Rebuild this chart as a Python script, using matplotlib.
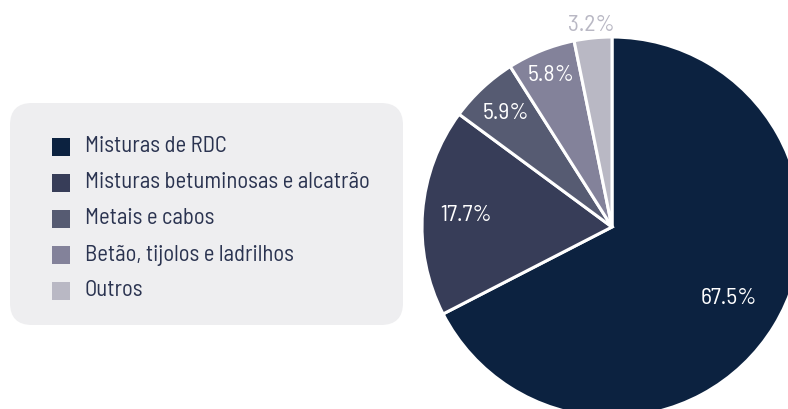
import matplotlib.pyplot as plt
from matplotlib.patches import FancyBboxPatch, Rectangle
import numpy as np

labels = ['Misturas de RDC', 'Misturas betuminosas e alcatrão', 'Metais e cabos',
          'Betão, tijolos e ladrilhos', 'Outros']
values = [67.5, 17.7, 5.9, 5.8, 3.2]
colors = ['#0c2240', '#373d58', '#565b72', '#83829a', '#b9b8c4']

# label placement (fraction of radius) and colours
label_dist = [0.72, 0.77, 0.82, 0.86, 1.065]
label_cols = ['white', 'white', 'white', 'white', '#b9b8c4']

plt.rcParams['font.family'] = ['Barlow Semi Condensed', 'DejaVu Sans']

W, H = 788, 409
fig = plt.figure(figsize=(W / 100, H / 100), dpi=100)
ax = fig.add_axes([0, 0, 1, 1])

cx, cy, r = 612, H - 227, 190
wedges, _ = ax.pie(values, colors=colors, startangle=90, counterclock=False,
                   center=(cx, cy), radius=r, frame=True,
                   wedgeprops=dict(edgecolor='white', linewidth=2.2))
ax.set_xlim(0, W)
ax.set_ylim(0, H)
ax.set_aspect('equal')
ax.axis('off')

for w, v, d, c in zip(wedges, values, label_dist, label_cols):
    ang = np.deg2rad((w.theta1 + w.theta2) / 2)
    ax.text(cx + d * r * np.cos(ang), cy + d * r * np.sin(ang), f'{v:.1f}%',
            ha='center', va='center', color=c, fontsize=17)

# legend box
box = FancyBboxPatch((10, H - 325), 393, 222, boxstyle='round,pad=0,rounding_size=22',
                     facecolor='#eeeef0', edgecolor='none')
ax.add_patch(box)
for i, (lab, col) in enumerate(zip(labels, colors)):
    y = H - (147 + i * 36)
    ax.add_patch(Rectangle((52, y - 9), 18, 18, facecolor=col, edgecolor='none'))
    ax.text(85, y, lab, ha='left', va='center', color='#2a3350', fontsize=16.3)

fig.savefig('out.png', dpi=100)
